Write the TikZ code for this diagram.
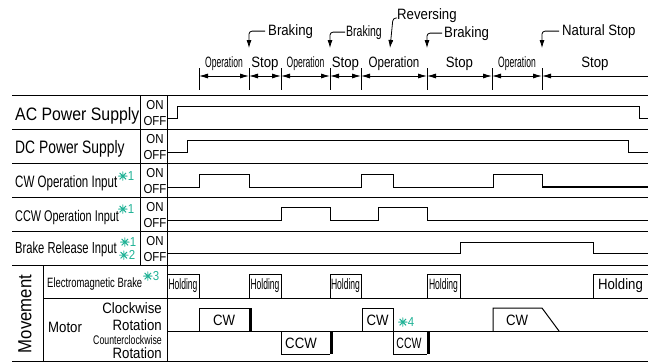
\documentclass[tikz,border=0pt]{standalone}
\usepackage{fontspec}
\setmainfont[FakeStretch=0.88]{Liberation Sans}
\newfontfamily\midfont[FakeStretch=0.77]{Liberation Sans}
\newfontfamily\narrowfont[FakeStretch=0.7]{Liberation Sans}
\newfontfamily\tightfont[FakeStretch=0.57]{Liberation Sans}
\newfontfamily\symfont[FakeBold=2]{DejaVu Sans}
\usetikzlibrary{arrows.meta, positioning}
\definecolor{notegreen}{RGB}{32,178,150}
\newcommand\sz[1]{\fontsize{#1}{#1}\selectfont}
\newcommand\notemark[1]{{\symfont\sz{12}✳}{\sz{13}#1}}

\begin{document}
\begin{tikzpicture}[
  x=1pt, y=-1pt,
  rule/.style={line width=0.9pt},
  wave/.style={line width=1pt},
  lbl/.style={anchor=base west, inner sep=0pt},
  onoff/.style={inner sep=0pt, font=\sz{13}},
  note/.style={inner sep=0pt, text=notegreen},
  seg/.style={midway, anchor=base, yshift=9pt, inner sep=0pt, font=\sz{15}},
  dim/.style={{Latex[length=9pt,width=5pt]}-{Latex[length=9pt,width=5pt]}, line width=0.8pt},
  tick/.style={line width=0.8pt},
  callout/.style={-{Latex[length=8pt,width=5pt]}, line width=0.8pt, rounded corners=3pt},
  boxtext/.style={inner sep=0pt, font=\sz{15}},
  bar/.style={line width=3pt}
]
  \useasboundingbox (0,0) rectangle (653,362);

  \foreach \y in {95,129,163,197,231,265,361}
    \draw[rule] (12,\y) -- (648,\y);
  \draw[rule] (43,298) -- (648,298);
  \draw[rule] (167,331) -- (648,331);
  \draw[rule] (140,95) -- (140,265);
  \draw[rule] (167,95) -- (167,361);
  \draw[rule] (43,265) -- (43,361);

  \node[lbl, font=\sz{18}] (ac) at (15,120) {AC Power Supply};
  \node[lbl, font=\midfont\sz{18}] (dc) at (15,153) {DC Power Supply};
  \node[lbl, font=\narrowfont\sz{16.5}] (cw) at (15,187) {CW Operation Input};
  \node[lbl, font=\narrowfont\sz{15.5}] (ccw) at (15,221) {CCW Operation Input};
  \node[lbl, font=\narrowfont\sz{16}] (brake) at (15,253) {Brake Release Input};
  \foreach \t [count=\i] in {95,129,163,197,231} {
    \node[onoff] (on\i) at (155,\t+10) {ON};
    \node[onoff] (off\i) at (155,\t+26) {OFF};
  }

  \node[inner sep=0pt, rotate=90, font=\sz{19}] (move) at (25,314) {Movement};
  \node[lbl, font=\narrowfont\sz{13.5}] (emb) at (47,287) {Electromagnetic Brake};
  \node[lbl, font=\sz{15}] (motor) at (48,332) {Motor};
  \node[anchor=base east, inner sep=0pt, font=\sz{15}] (cwr1) at (162,313) {Clockwise};
  \node[anchor=base east, inner sep=0pt, font=\sz{15}] (cwr2) at (162,330) {Rotation};
  \node[anchor=base east, inner sep=0pt, font=\narrowfont\sz{12.5}] (ccwr1) at (162,344) {Counterclockwise};
  \node[anchor=base east, inner sep=0pt, font=\sz{15}] (ccwr2) at (162,358) {Rotation};

  \node[note] (n1) at (126,176) {\notemark{1}};
  \node[note] (n2) at (126,209) {\notemark{1}};
  \node[note] (n3) at (128,242) {\notemark{1}};
  \node[note] (n4) at (127,255) {\notemark{2}};
  \node[note] (n5) at (151,276) {\notemark{3}};
  \node[note] (n6) at (406,322) {\notemark{4}};

  \draw[wave] (167,118) -| (177,106) -| (639,118) -- (648,118);
  \draw[wave] (167,152) -| (187,140) -| (628,152) -- (648,152);
  \draw[wave] (167,187) -| (199,174) -| (249,187) -| (361,174) -| (393,187)
    -| (493,174) -| (542,187);
  \draw[wave, line width=1.6pt] (542,187) -- (648,187);
  \draw[wave] (167,220) -| (281,207) -| (330,220) -| (378,207) -| (427,220) -- (648,220);
  \draw[wave] (167,253) -| (460,242) -| (593,253) -- (648,253);

  \draw[wave] (167,298) |- (199,274) -- (199,298);
  \draw[wave] (249,298) |- (281,274) -- (281,298);
  \draw[wave] (330,298) |- (361,274) -- (361,298);
  \draw[wave] (427,298) |- (460,274) -- (460,298);
  \draw[wave] (593,298) |- (648,274);
  \node[boxtext, font=\tightfont\sz{15}] (h1) at (183,286) {Holding};
  \node[boxtext, font=\tightfont\sz{15}] (h2) at (265,286) {Holding};
  \node[boxtext, font=\tightfont\sz{15}] (h3) at (345.5,286) {Holding};
  \node[boxtext, font=\tightfont\sz{15}] (h4) at (443.5,286) {Holding};
  \node[boxtext] (h5) at (620.5,286) {Holding};

  \draw[wave] (199,331) |- (249,308);
  \draw[bar] (250.5,308) -- (250.5,331);
  \draw[wave] (281,331) |- (330,354);
  \draw[bar] (331.5,331) -- (331.5,354);
  \draw[wave] (362,331) |- (393,308) -- (393,331);
  \draw[wave] (393,331) |- (427,354);
  \draw[bar] (428.5,331) -- (428.5,354);
  \draw[wave] (493,331) |- (542,308) -- (559,331);
  \node[boxtext] (m1) at (224,320.5) {CW};
  \node[boxtext] (m2) at (301,343) {CCW};
  \node[boxtext] (m3) at (377.5,320.5) {CW};
  \node[boxtext, font=\narrowfont\sz{15}] (m4) at (409,343) {CCW};
  \node[boxtext] (m5) at (517,320.5) {CW};

  \foreach \x [count=\i] in {199,249,281,330,361,427,492,542} {
    \draw[tick] (\x,68) -- (\x,90);
    \coordinate (d\i) at (\x,76);
  }
  \coordinate (dend) at (648,76);
  \draw[dim] (d1) -- node[seg, font=\tightfont\sz{15}] {Operation} (d2);
  \draw[dim] (d2) -- node[seg] {Stop} (d3);
  \draw[dim] (d3) -- node[seg, font=\tightfont\sz{15}] {Operation} (d4);
  \draw[dim] (d4) -- node[seg] {Stop} (d5);
  \draw[dim] (d5) -- node[seg, font=\midfont\sz{15}] {Operation} (d6);
  \draw[dim] (d6) -- node[seg] {Stop} (d7);
  \draw[dim] (d7) -- node[seg, font=\tightfont\sz{15}] {Operation} (d8);
  \draw[{Latex[length=9pt,width=5pt]}-, line width=0.8pt] (d8) -- node[seg] {Stop} (dend);

  \node[lbl, font=\sz{15}] (brk1) at (268,35) {Braking};
  \node[lbl, font=\narrowfont\sz{15}] (brk2) at (346,36) {Braking};
  \node[lbl, font=\sz{15}] (rev) at (397,19) {Reversing};
  \node[lbl, font=\sz{15}] (brk3) at (444,37) {Braking};
  \node[lbl, font=\sz{15}] (nat) at (562,35) {Natural Stop};
  \coordinate (tip1) at (249,48);
  \coordinate (tip2) at (330,48);
  \coordinate (tip3) at (390,48);
  \coordinate (tip4) at (427,48);
  \coordinate (tip5) at (542,48);
  \draw[callout] ([xshift=-3pt]brk1.west) -| (tip1);
  \draw[callout] ([xshift=-1pt]brk2.west) -| (tip2);
  \draw[callout] ([yshift=1pt]rev.base west) -- ++(-4,0) -- (tip3);
  \draw[callout] ([xshift=-2pt]brk3.west) -| (tip4);
  \draw[callout] ([xshift=-3pt]nat.west) -| (tip5);
\end{tikzpicture}
\end{document}
